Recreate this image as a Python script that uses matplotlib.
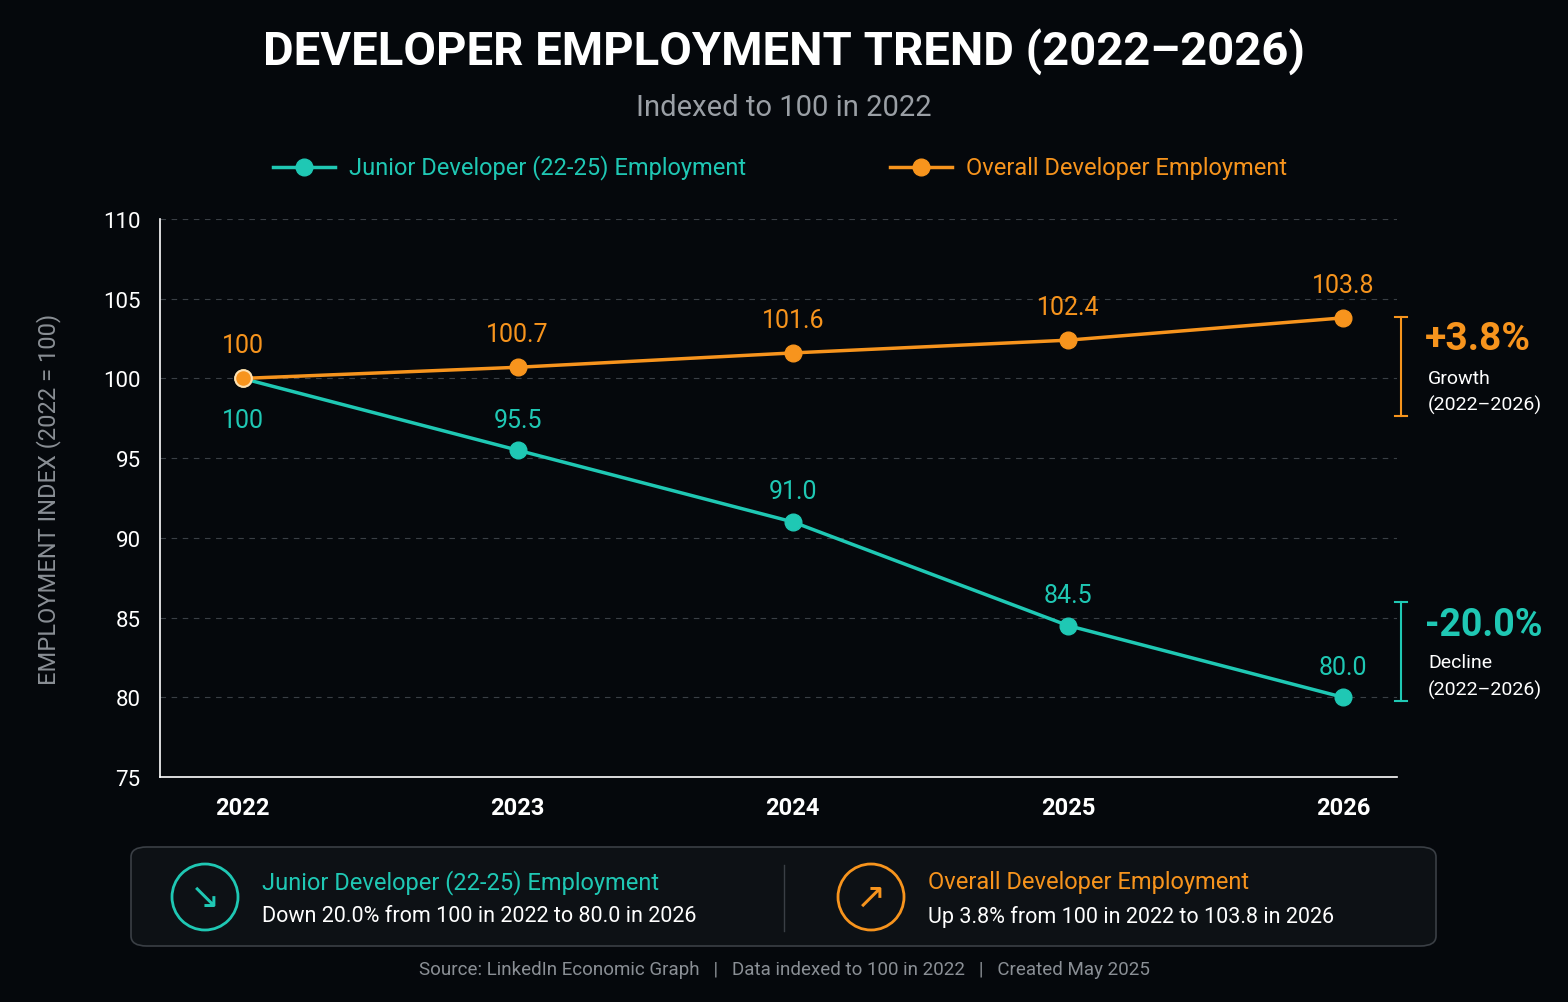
import matplotlib.pyplot as plt
from matplotlib.patches import FancyBboxPatch, Ellipse
from matplotlib.lines import Line2D

plt.rcParams['font.family'] = ['Roboto', 'DejaVu Sans']

years = ["2022", "2023", "2024", "2025", "2026"]
junior = [100, 95.5, 91.0, 84.5, 80.0]
overall = [100, 100.7, 101.6, 102.4, 103.8]
junior_labels = ["100", "95.5", "91.0", "84.5", "80.0"]
overall_labels = ["100", "100.7", "101.6", "102.4", "103.8"]
yticks = [75, 80, 85, 90, 95, 100, 105, 110]

BG = "#05080c"
TEAL = "#1fc8b4"
ORANGE = "#f7941d"
W, H = 1568, 1003

fig = plt.figure(figsize=(W/100, H/100), dpi=100, facecolor=BG)
def fx(x): return x / W
def fy(y): return 1 - y / H

ax = fig.add_axes([fx(160), fy(778), fx(1397) - fx(160), fy(220) - fy(778)], facecolor=BG)
xs = list(range(len(years)))
ax.set_xlim(-0.30, 4.196)
ax.set_ylim(75, 110)
ax.set_yticks(yticks)
ax.set_xticks(xs)
ax.set_xticklabels(years, color="white", fontsize=17, fontweight="bold")
ax.set_yticklabels([str(t) for t in yticks], color="white", fontsize=16)
ax.tick_params(length=0, pad=14)
for t in yticks[1:]:
    ax.axhline(t, color="#3a3f45", lw=0.8, ls=(0, (5, 5)), zorder=0)
for s in ["top", "right"]:
    ax.spines[s].set_visible(False)
for s in ["left", "bottom"]:
    ax.spines[s].set_color("white")
    ax.spines[s].set_linewidth(1.2)
ax.set_ylabel("EMPLOYMENT INDEX (2022 = 100)", color="#8a8f95", fontsize=17, labelpad=30)

ax.plot(xs, junior, color=TEAL, lw=2.5, marker="o", ms=12, zorder=3)
ax.plot(xs, overall, color=ORANGE, lw=2.5, marker="o", ms=12, zorder=4)
ax.plot([0], [100], "o", ms=12, color=ORANGE, mec="#ffe0b0", mew=1.5, zorder=5)
for i in xs:
    ax.annotate(junior_labels[i], (i, junior[i]), xytext=(0, -30 if i == 0 else 22),
                textcoords="offset points", ha="center", va="center", color=TEAL, fontsize=18)
    ax.annotate(overall_labels[i], (i, overall[i]), xytext=(0, 24),
                textcoords="offset points", ha="center", va="center", color=ORANGE, fontsize=18)

# side brackets
for (y0, y1, col) in [(318, 417, ORANGE), (603, 702, TEAL)]:
    fig.add_artist(Line2D([fx(1401)]*2, [fy(y0), fy(y1)], color=col, lw=1.5))
    for y in (y0, y1):
        fig.add_artist(Line2D([fx(1395), fx(1407)], [fy(y)]*2, color=col, lw=1.5))
fig.text(fx(1425), fy(340), "+3.8%", color=ORANGE, fontsize=28, fontweight="bold", va="center")
fig.text(fx(1428), fy(379), "Growth", color="white", fontsize=14, va="center")
fig.text(fx(1428), fy(405), "(2022–2026)", color="white", fontsize=14, va="center")
fig.text(fx(1425), fy(625), "-20.0%", color=TEAL, fontsize=27, fontweight="bold", va="center")
fig.text(fx(1428), fy(663), "Decline", color="white", fontsize=14, va="center")
fig.text(fx(1428), fy(690), "(2022–2026)", color="white", fontsize=14, va="center")

# title
fig.text(0.5, fy(52), "DEVELOPER EMPLOYMENT TREND (2022–2026)", color="white",
         fontsize=34, fontweight="bold", ha="center", va="center")
fig.text(0.5, fy(108), "Indexed to 100 in 2022", color="#9a9fa5", fontsize=21, ha="center", va="center")

# legend
for (x0, col, lab) in [(273, TEAL, "Junior Developer (22-25) Employment"),
                       (890, ORANGE, "Overall Developer Employment")]:
    fig.add_artist(Line2D([fx(x0), fx(x0 + 62)], [fy(168)]*2, color=col, lw=2.5))
    fig.add_artist(Line2D([fx(x0 + 31)], [fy(168)], marker="o", ms=12, color=col))
    fig.text(fx(x0 + 76), fy(168), lab, color=col, fontsize=17, va="center")

# bottom box
box = FancyBboxPatch((fx(131), fy(947)), fx(1436) - fx(131), fy(848) - fy(947),
                     boxstyle="round,pad=0,rounding_size=0.01", transform=fig.transFigure,
                     facecolor="#0d1115", edgecolor="#3a3f45", lw=1.2)
fig.add_artist(box)
fig.add_artist(Line2D([fx(784)]*2, [fy(866), fy(932)], color="#3a3f45", lw=1))
for (cx, col, t1, t2, sym) in [(205, TEAL, "Junior Developer (22-25) Employment",
                                "Down 20.0% from 100 in 2022 to 80.0 in 2026", "↘"),
                               (871, ORANGE, "Overall Developer Employment",
                                "Up 3.8% from 100 in 2022 to 103.8 in 2026", "↗")]:
    fig.add_artist(Ellipse((fx(cx), fy(898)), 66 / W, 66 / H, transform=fig.transFigure,
                           facecolor="none", edgecolor=col, lw=2))
    fig.text(fx(cx), fy(898), sym, color=col, fontsize=26, ha="center", va="center",
             family="DejaVu Sans")
    fig.text(fx(cx + 57), fy(883), t1, color=col, fontsize=17, va="center")
    fig.text(fx(cx + 57), fy(917), t2, color="white", fontsize=15.5, va="center")

fig.text(0.5, fy(970), "Source: LinkedIn Economic Graph   |   Data indexed to 100 in 2022   |   Created May 2025",
         color="#8a8f95", fontsize=13.5, ha="center", va="center")

fig.savefig("out.png", dpi=100, facecolor=BG)
